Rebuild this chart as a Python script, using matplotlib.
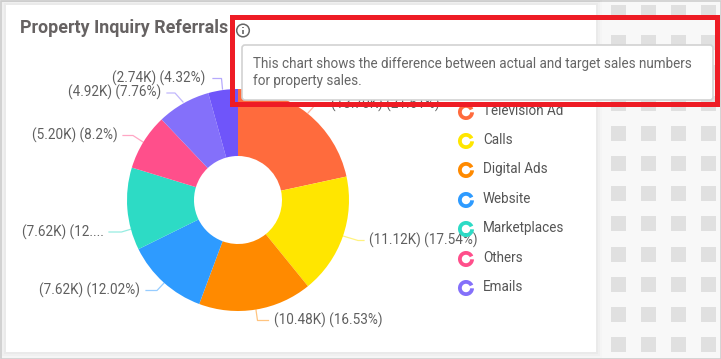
import matplotlib
matplotlib.use("Agg")
import matplotlib.pyplot as plt
from matplotlib.patches import Rectangle, FancyBboxPatch, Wedge, Circle

W, H = 721, 359

# ---- data
legend_labels = ["Television Ads", "Calls", "Digital Ads", "Website", "Marketplaces", "Others", "Emails"]
percents = [21.61, 17.54, 16.53, 12.02, 12.02, 8.2, 7.76, 4.32]
values_k = ["13.70K", "11.12K", "10.48K", "7.62K", "7.62K", "5.20K", "4.92K", "2.74K"]
percent_text = ["(21.61%)", "(17.54%)", "(16.53%)", "(12.02%)", "(12....", "(8.2%)", "(7.76%)", "(4.32%)"]
colors = ["#FF6B3D", "#FFE600", "#FF8A00", "#2E9BFF", "#2DDBC5", "#FF4F8B", "#8470FA", "#6F55FA"]

title = "Property Inquiry Referrals"
tooltip_lines = ["This chart shows the difference between actual and target sales numbers",
                 "for property sales."]

# ---- layout (pixels, top-left origin)
CX, CY, R, R_IN = 238, 200, 111, 44
label_anchor = [(331, 104.5, "left"), (369, 240, "left"), (274, 320, "left"), (140, 290, "right"),
                (104, 232, "right"), (118, 135, "right"), (161, 92, "right"), (205, 78, "right")]
leaders = [[(308, 113), (316, 104), (326, 104)],
           [(343, 236), (358, 240.5), (364, 240.5)],
           [(256, 310), (257.5, 320.5), (268.5, 320.5)],
           [(164, 283), (157, 290.5), (146, 290.5)],
           [(131.5, 229), (121.5, 232), (109, 232)],
           [(143, 142), (133, 135.5), (123, 135.5)],
           [(183, 102), (175, 93), (167, 93)],
           [(222.5, 89), (221.5, 78.5), (213, 78.5)]]
legend_x, legend_ys = 466, [111, 140, 169, 199, 228, 258, 287]

plt.rcParams["font.family"] = ["Roboto", "DejaVu Sans"]
fig = plt.figure(figsize=(W / 100, H / 100), dpi=100, facecolor="#F8F8F8")

bg = fig.add_axes([0, 0, 1, 1], zorder=1)
bg.set_xlim(0, W); bg.set_ylim(H, 0); bg.axis("off")

# outer border
bg.add_patch(Rectangle((0.5, 0.5), W - 1, H - 1, fc="#F8F8F8", ec="#CFCFCF", lw=1.2))
# squares
for col in range(4):
    for row in range(12):
        bg.add_patch(Rectangle((611 + 30 * col, 5 + 30.2 * row), 15, 15, fc="#E0E0E0", ec="none"))
# card shadow + card
for d, a in zip([6, 4, 2], [0.012, 0.018, 0.025]):
    bg.add_patch(Rectangle((6 - d, 5 - d), 590 + 2 * d, 347 + 2 * d, fc="black", ec="none", alpha=a))
bg.add_patch(Rectangle((6, 5), 590, 347, fc="white", ec="none"))

bg.text(20, 28, title, fontsize=12.85, fontweight="bold", color="#666262", va="center", ha="left")
bg.add_patch(Circle((243, 30.5), 6.3, fc="none", ec="#666666", lw=1.1))
bg.plot([243, 243], [30, 34], color="#666666", lw=1.2, solid_capstyle="butt")
bg.plot([243, 243], [26.7, 28], color="#666666", lw=1.2, solid_capstyle="butt")

# donut
pie_ax = fig.add_axes([(CX - R) / W, 1 - (CY + R) / H, 2 * R / W, 2 * R / H], zorder=2)
pie_ax.pie(percents, colors=colors, startangle=90, counterclock=False, radius=1,
           wedgeprops=dict(width=1 - R_IN / R, linewidth=0))
pie_ax.set_xlim(-1, 1); pie_ax.set_ylim(-1, 1)

# overlay
ov = fig.add_axes([0, 0, 1, 1], zorder=3)
ov.set_xlim(0, W); ov.set_ylim(H, 0); ov.axis("off"); ov.patch.set_alpha(0)

for pts, c in zip(leaders, colors):
    ov.plot([p[0] for p in pts], [p[1] for p in pts], color=c, lw=0.9, alpha=0.5, zorder=2)
for (x, y, ha), v, p in zip(label_anchor, values_k, percent_text):
    ov.text(x, y, f"({v}) {p}", fontsize=9.75, color="#5F5F5F", ha=ha, va="center", zorder=3)

clip = Rectangle((440, 90), 122.5, 220, transform=ov.transData)
for name, y, c in zip(legend_labels, legend_ys, colors):
    # ring icon with a notch; the y axis is inverted so wedge angles run clockwise on screen
    ov.add_patch(Wedge((legend_x, y + 1), 8, 3, 335, width=3.8, fc=c, ec="none", zorder=4))
    t = ov.text(483, y, name, fontsize=9.75, color="#555555", ha="left", va="center", zorder=5)
    t.set_clip_path(clip)
    t.set_clip_on(True)

# tooltip
ov.add_patch(FancyBboxPatch((242, 45), 471, 55, boxstyle="round,pad=0,rounding_size=3",
                            fc="white", ec="#D2D2D2", lw=1.2, zorder=6))
for y, line in zip([64, 81], tooltip_lines):
    ov.text(253, y, line, fontsize=9.75, color="#666666", ha="left", va="center", zorder=7)

# red highlight box
ov.add_patch(Rectangle((231.5, 16.5), 485, 87, fc="none", ec="#EE1C25", lw=3.6, joinstyle="miter", zorder=8))

fig.savefig("out.png", dpi=100, facecolor=fig.get_facecolor())
